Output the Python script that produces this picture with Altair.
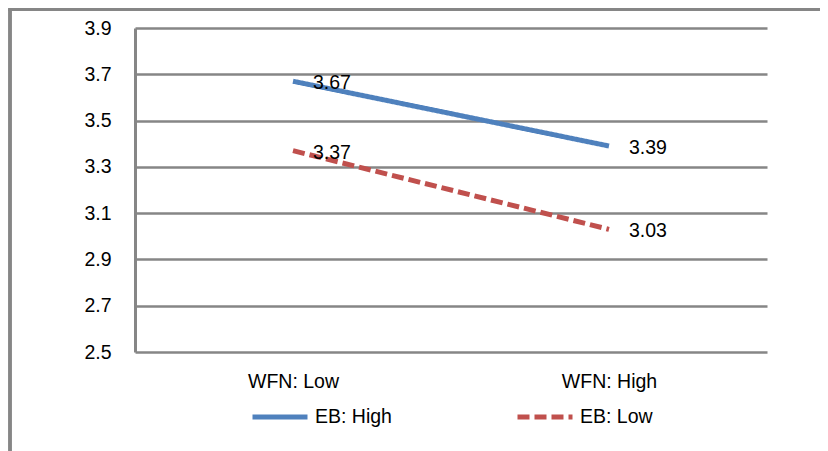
import altair as alt
import pandas as pd

categories = ["WFN: Low", "WFN: High"]
series = ["EB: High", "EB: Low"]
eb_high = [3.67, 3.39]
eb_low = [3.37, 3.03]
y_ticks = [2.5, 2.7, 2.9, 3.1, 3.3, 3.5, 3.7, 3.9]

rows = []
for s, vals in zip(series, [eb_high, eb_low]):
    for c, v in zip(categories, vals):
        rows.append({"WFN": c, "EB": s, "value": v, "label": f"{v:.2f}"})
df = pd.DataFrame(rows)

FONT = "Liberation Sans"
FS = 19.5
GRID = "#868686"

x_enc = alt.X("WFN:N", sort=categories, title=None,
              scale=alt.Scale(type="point", padding=0.5),
              axis=alt.Axis(labelAngle=0, ticks=False, domain=False, grid=False,
                            labelFontSize=FS, labelFont=FONT, labelColor="black",
                            labelPadding=20))
y_enc = alt.Y("value:Q", title=None,
              scale=alt.Scale(domain=[2.5, 3.9], nice=False, zero=False),
              axis=alt.Axis(values=y_ticks, format=".1f", ticks=False,
                            domainColor=GRID, domainWidth=3,
                            gridColor=GRID, gridWidth=2.5, gridOpacity=1,
                            labelFontSize=FS, labelFont=FONT, labelColor="black",
                            labelPadding=24))

lines = alt.Chart(df).mark_line(strokeWidth=5, strokeCap="butt").encode(
    x=x_enc,
    y=y_enc,
    color=alt.Color("EB:N", sort=series,
                    scale=alt.Scale(domain=series, range=["#4F81BD", "#C0504D"]),
                    legend=alt.Legend(title=None, orient="none", legendX=115, legendY=359,
                                      direction="horizontal", symbolType="stroke",
                                      symbolSize=3025, symbolStrokeWidth=5,
                                      labelFontSize=FS, labelFont=FONT, labelColor="black",
                                      columnPadding=115, labelOffset=5)),
    strokeDash=alt.StrokeDash("EB:N", sort=series,
                              scale=alt.Scale(domain=series, range=[[1, 0], [12, 5]]),
                              legend=None),
)

labels = alt.Chart(df).mark_text(align="left", baseline="middle", dx=20, dy=2,
                                 fontSize=FS, font=FONT, color="black").encode(
    x=alt.X("WFN:N", sort=categories),
    y="value:Q",
    text="label:N",
)

frame_left = alt.Chart(df).mark_rule(color=GRID, strokeWidth=3, clip=False).encode(
    x=alt.value(-125), y=alt.value(-18.5), y2=alt.value(440))
frame_top = alt.Chart(df).mark_rule(color=GRID, strokeWidth=3, clip=False).encode(
    x=alt.value(-126.5), x2=alt.value(700), y=alt.value(-18.5))

chart = alt.layer(lines, labels, frame_left, frame_top).properties(
    width=632, height=324,
    padding={"left": 127, "top": 20, "right": 53, "bottom": 100},
    autosize=alt.AutoSizeParams(type="none"),
).configure_view(stroke=None)

chart.save("out.html", embed_options={"renderer": "svg", "actions": False})
